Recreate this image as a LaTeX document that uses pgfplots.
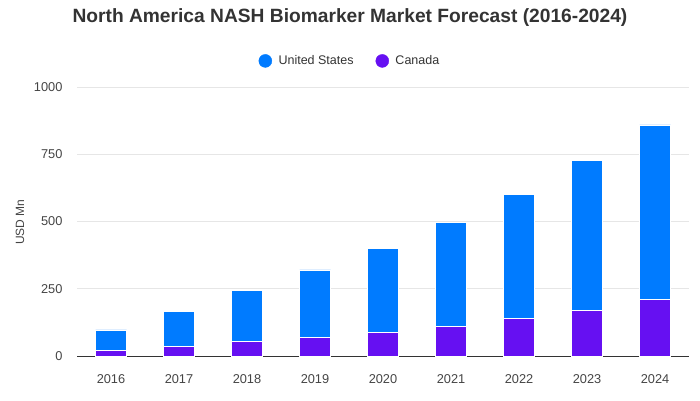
\documentclass[border=0pt]{standalone}
\usepackage{pgfplots}
\pgfplotsset{compat=1.18}
\usepackage{fontspec}
\setmainfont{Liberation Sans}
\definecolor{usblue}{RGB}{0,123,255}
\definecolor{capurple}{RGB}{102,16,242}
\definecolor{txt}{RGB}{68,68,68}
\definecolor{gridc}{RGB}{230,230,230}
\begin{document}
\begin{tikzpicture}
\useasboundingbox (0pt,0pt) rectangle (700pt,400pt);
\node[font=\fontsize{19.2}{22}\selectfont\bfseries, text=black!80] at (350pt,382pt) {North America NASH Biomarker Market Forecast (2016-2024)};
\node[rotate=90, font=\fontsize{12}{14}\selectfont, text=txt] at (20pt,178pt) {USD Mn};
\begin{axis}[
  at={(77pt,44pt)}, anchor=south west,
  scale only axis, width=612pt, height=269pt,
  xmin=-0.5, xmax=8.5, ymin=0, ymax=1000,
  ybar stacked, bar width=31pt,
  xtick={0,...,8},
  xticklabels={2016,2017,2018,2019,2020,2021,2022,2023,2024},
  ytick={0,250,500,750,1000},
  ymajorgrids, grid style={gridc, line width=0.8pt},
  axis line style={draw=none},
  major tick length=0pt,
  tick label style={font=\fontsize{12.8}{14}\selectfont, text=txt},
  /pgf/number format/assume math mode=true,
  /pgf/number format/1000 sep={},
  xticklabel style={yshift=-15pt},
  yticklabel style={xshift=-11pt},
  legend style={at={(axis description cs:0.446,1.097)}, anchor=center, draw=none, fill=none,
    font=\fontsize{12.5}{14}\selectfont, text=black!80, legend columns=2,
    /tikz/every even column/.append style={column sep=20pt}},
  legend cell align=left,
]
\addlegendimage{legend image code/.code={\fill[usblue] (0pt,0) circle (6.5pt); \path (11pt,0);}}
\addlegendentry{United States}
\addlegendimage{legend image code/.code={\fill[capurple] (0pt,0) circle (6.5pt); \path (11pt,0);}}
\addlegendentry{Canada}
\addplot[fill=capurple, draw=white, line width=0.8pt, forget plot] coordinates {
(0,21) (1,36) (2,55) (3,70) (4,88) (5,110) (6,138) (7,170) (8,211)};
\addplot[fill=usblue, draw=white, line width=0.8pt, forget plot] coordinates {
(0,76) (1,128) (2,190) (3,250) (4,312) (5,386) (6,464) (7,556) (8,648)};
\draw[black!80, line width=1pt] (rel axis cs:0,0) -- (rel axis cs:1,0);
\end{axis}
\end{tikzpicture}
\end{document}
